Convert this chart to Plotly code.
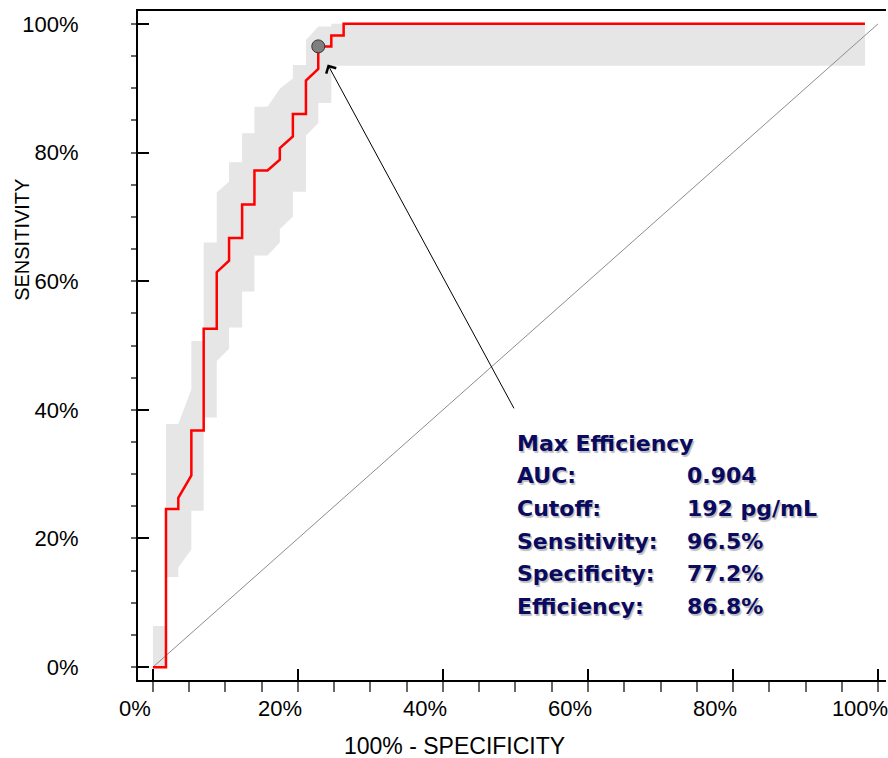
import plotly.graph_objects as go

# ROC curve (percent)
roc_fpr = [0, 1.8, 1.8, 3.5, 3.5, 5.3, 5.3, 7.0, 7.0, 8.8, 8.8, 10.5, 10.5, 12.3, 12.3,
           14.0, 14.0, 15.8, 17.5, 17.5, 19.3, 19.3, 21.1, 21.1, 22.8, 22.8, 24.6, 24.6,
           26.3, 26.3, 98.2]
roc_sens = [0, 0, 24.6, 24.6, 26.3, 29.8, 36.8, 36.8, 52.6, 52.6, 61.4, 63.2, 66.7, 66.7,
            71.9, 71.9, 77.2, 77.2, 78.9, 80.7, 82.5, 86.0, 86.0, 91.2, 93.0, 96.5, 96.5,
            98.2, 98.2, 100, 100]

# Confidence band: upper edge (left -> right)
band_upper_x = [0, 1.8, 1.8, 3.5, 5.3, 5.3, 7.0, 7.0, 8.8, 8.8, 10.5, 10.5, 12.3, 12.3,
                14.0, 14.0, 15.8, 17.5, 19.3, 19.3, 21.1, 21.1, 22.8, 24.6, 24.6, 98.2]
band_upper_y = [6.4, 6.4, 37.8, 37.8, 43.2, 50.7, 50.7, 66.0, 66.0, 73.8, 75.5, 78.5, 78.5,
                83.0, 83.0, 87.1, 87.1, 89.9, 91.5, 93.6, 93.6, 97.5, 99.6, 99.6, 100, 100]
# lower edge (right -> left)
band_lower_x = [98.2, 24.6, 24.6, 22.8, 22.8, 21.1, 21.1, 19.3, 19.3, 17.5, 17.5, 15.8,
                14.0, 14.0, 12.3, 12.3, 10.5, 10.5, 8.8, 8.8, 7.0, 7.0, 5.3, 5.3, 3.5, 3.5,
                1.8, 1.8, 0]
band_lower_y = [93.5, 93.5, 87.7, 87.7, 84.6, 82.6, 73.9, 73.9, 70.0, 68.1, 66.0, 64.0,
                64.0, 58.4, 58.4, 52.8, 52.8, 49.5, 47.6, 38.8, 38.8, 24.3, 24.3, 18.3, 15.5,
                14.0, 14.0, 0, 0]

# Reference diagonal
ref_x = [0, 100]
ref_y = [0, 100]

# Max efficiency point
best_fpr = [22.8]
best_sens = [96.5]

# Stats box
stat_labels = ["Max Efficiency", "AUC:", "Cutoff:", "Sensitivity:", "Specificity:", "Efficiency:"]
stat_values = ["", "0.904", "192 pg/mL", "96.5%", "77.2%", "86.8%"]

tick_vals = [0, 20, 40, 60, 80, 100]
tick_text = ["0%", "20%", "40%", "60%", "80%", "100%"]

fig = go.Figure()

fig.add_trace(go.Scatter(
    x=band_upper_x + band_lower_x, y=band_upper_y + band_lower_y,
    fill="toself", fillcolor="#e6e6e6", line=dict(width=0), mode="lines",
    hoverinfo="skip", showlegend=False))

fig.add_trace(go.Scatter(
    x=ref_x, y=ref_y, mode="lines", line=dict(color="#8c8c8c", width=1),
    showlegend=False))

fig.add_trace(go.Scatter(
    x=roc_fpr, y=roc_sens, mode="lines", line=dict(color="#ff0000", width=2.5),
    showlegend=False))

fig.add_trace(go.Scatter(
    x=best_fpr, y=best_sens, mode="markers",
    marker=dict(size=13, color="#7f7f7f", line=dict(color="#333333", width=1)),
    showlegend=False))

text_color = "#0a0a60"
text_font = dict(family="DejaVu Sans", size=22, color=text_color,
                 weight="bold", shadow="1.5px 1.5px 1px #bdbdbd")
row0 = 34.84
row_step = 5.085
for i, (lab, val) in enumerate(zip(stat_labels, stat_values)):
    yv = row0 - i * row_step
    fig.add_annotation(x=50.0, y=yv, xref="x", yref="y", text=lab, showarrow=False,
                       xanchor="left", yanchor="middle", font=text_font)
    if val:
        fig.add_annotation(x=73.4, y=yv, xref="x", yref="y", text=val, showarrow=False,
                           xanchor="left", yanchor="middle", font=text_font)

# Arrow from stats box to the max-efficiency point
fig.add_annotation(x=best_fpr[0] + 1.3, y=best_sens[0] - 2.8, xref="x", yref="y",
                   ax=49.9, ay=40.0, axref="x", ayref="y", text="",
                   showarrow=True, arrowhead=4, arrowsize=2.2, arrowwidth=1,
                   arrowcolor="#000000", standoff=0)

# Axis titles
fig.add_annotation(x=-0.155, y=0.658, xref="paper", yref="paper", text="SENSITIVITY",
                   textangle=-90, showarrow=False, xanchor="center", yanchor="middle",
                   font=dict(family="Liberation Sans", size=20, color="#000000"))
fig.add_annotation(x=0.4227, y=-0.0987, xref="paper", yref="paper",
                   text="100% - SPECIFICITY", showarrow=False, xanchor="center",
                   yanchor="middle",
                   font=dict(family="Liberation Sans", size=23, color="#000000"))

axis_common = dict(
    showgrid=False, zeroline=False, showline=True, linecolor="#000000", linewidth=2,
    tickmode="array", tickvals=tick_vals, ticktext=tick_text,
    ticks="inside", tickcolor="#000000",
    tickwidth=2, tickfont=dict(family="Liberation Sans", size=22, color="#000000"),
)

fig.update_xaxes(**axis_common, range=[-2.06, 101.1], mirror=True, ticklen=11,
                 minor=dict(ticks="outside", dtick=5, tick0=0, ticklen=10,
                            tickcolor="#666666", tickwidth=1.5),
                 ticklabelshift=-18, ticklabelstandoff=8, ticklabeloverflow="allow")
fig.update_yaxes(**axis_common, range=[-2.0, 102.0], ticklen=11,
                 minor=dict(ticks="outside", dtick=5, tick0=0, ticklen=5,
                            tickcolor="#666666", tickwidth=1.5),
                 ticklabelstandoff=53)

fig.update_layout(
    width=888, height=758,
    margin=dict(l=138, r=0, t=11, b=78),
    plot_bgcolor="#ffffff", paper_bgcolor="#ffffff",
    showlegend=False,
)

fig.write_html("out.html")
